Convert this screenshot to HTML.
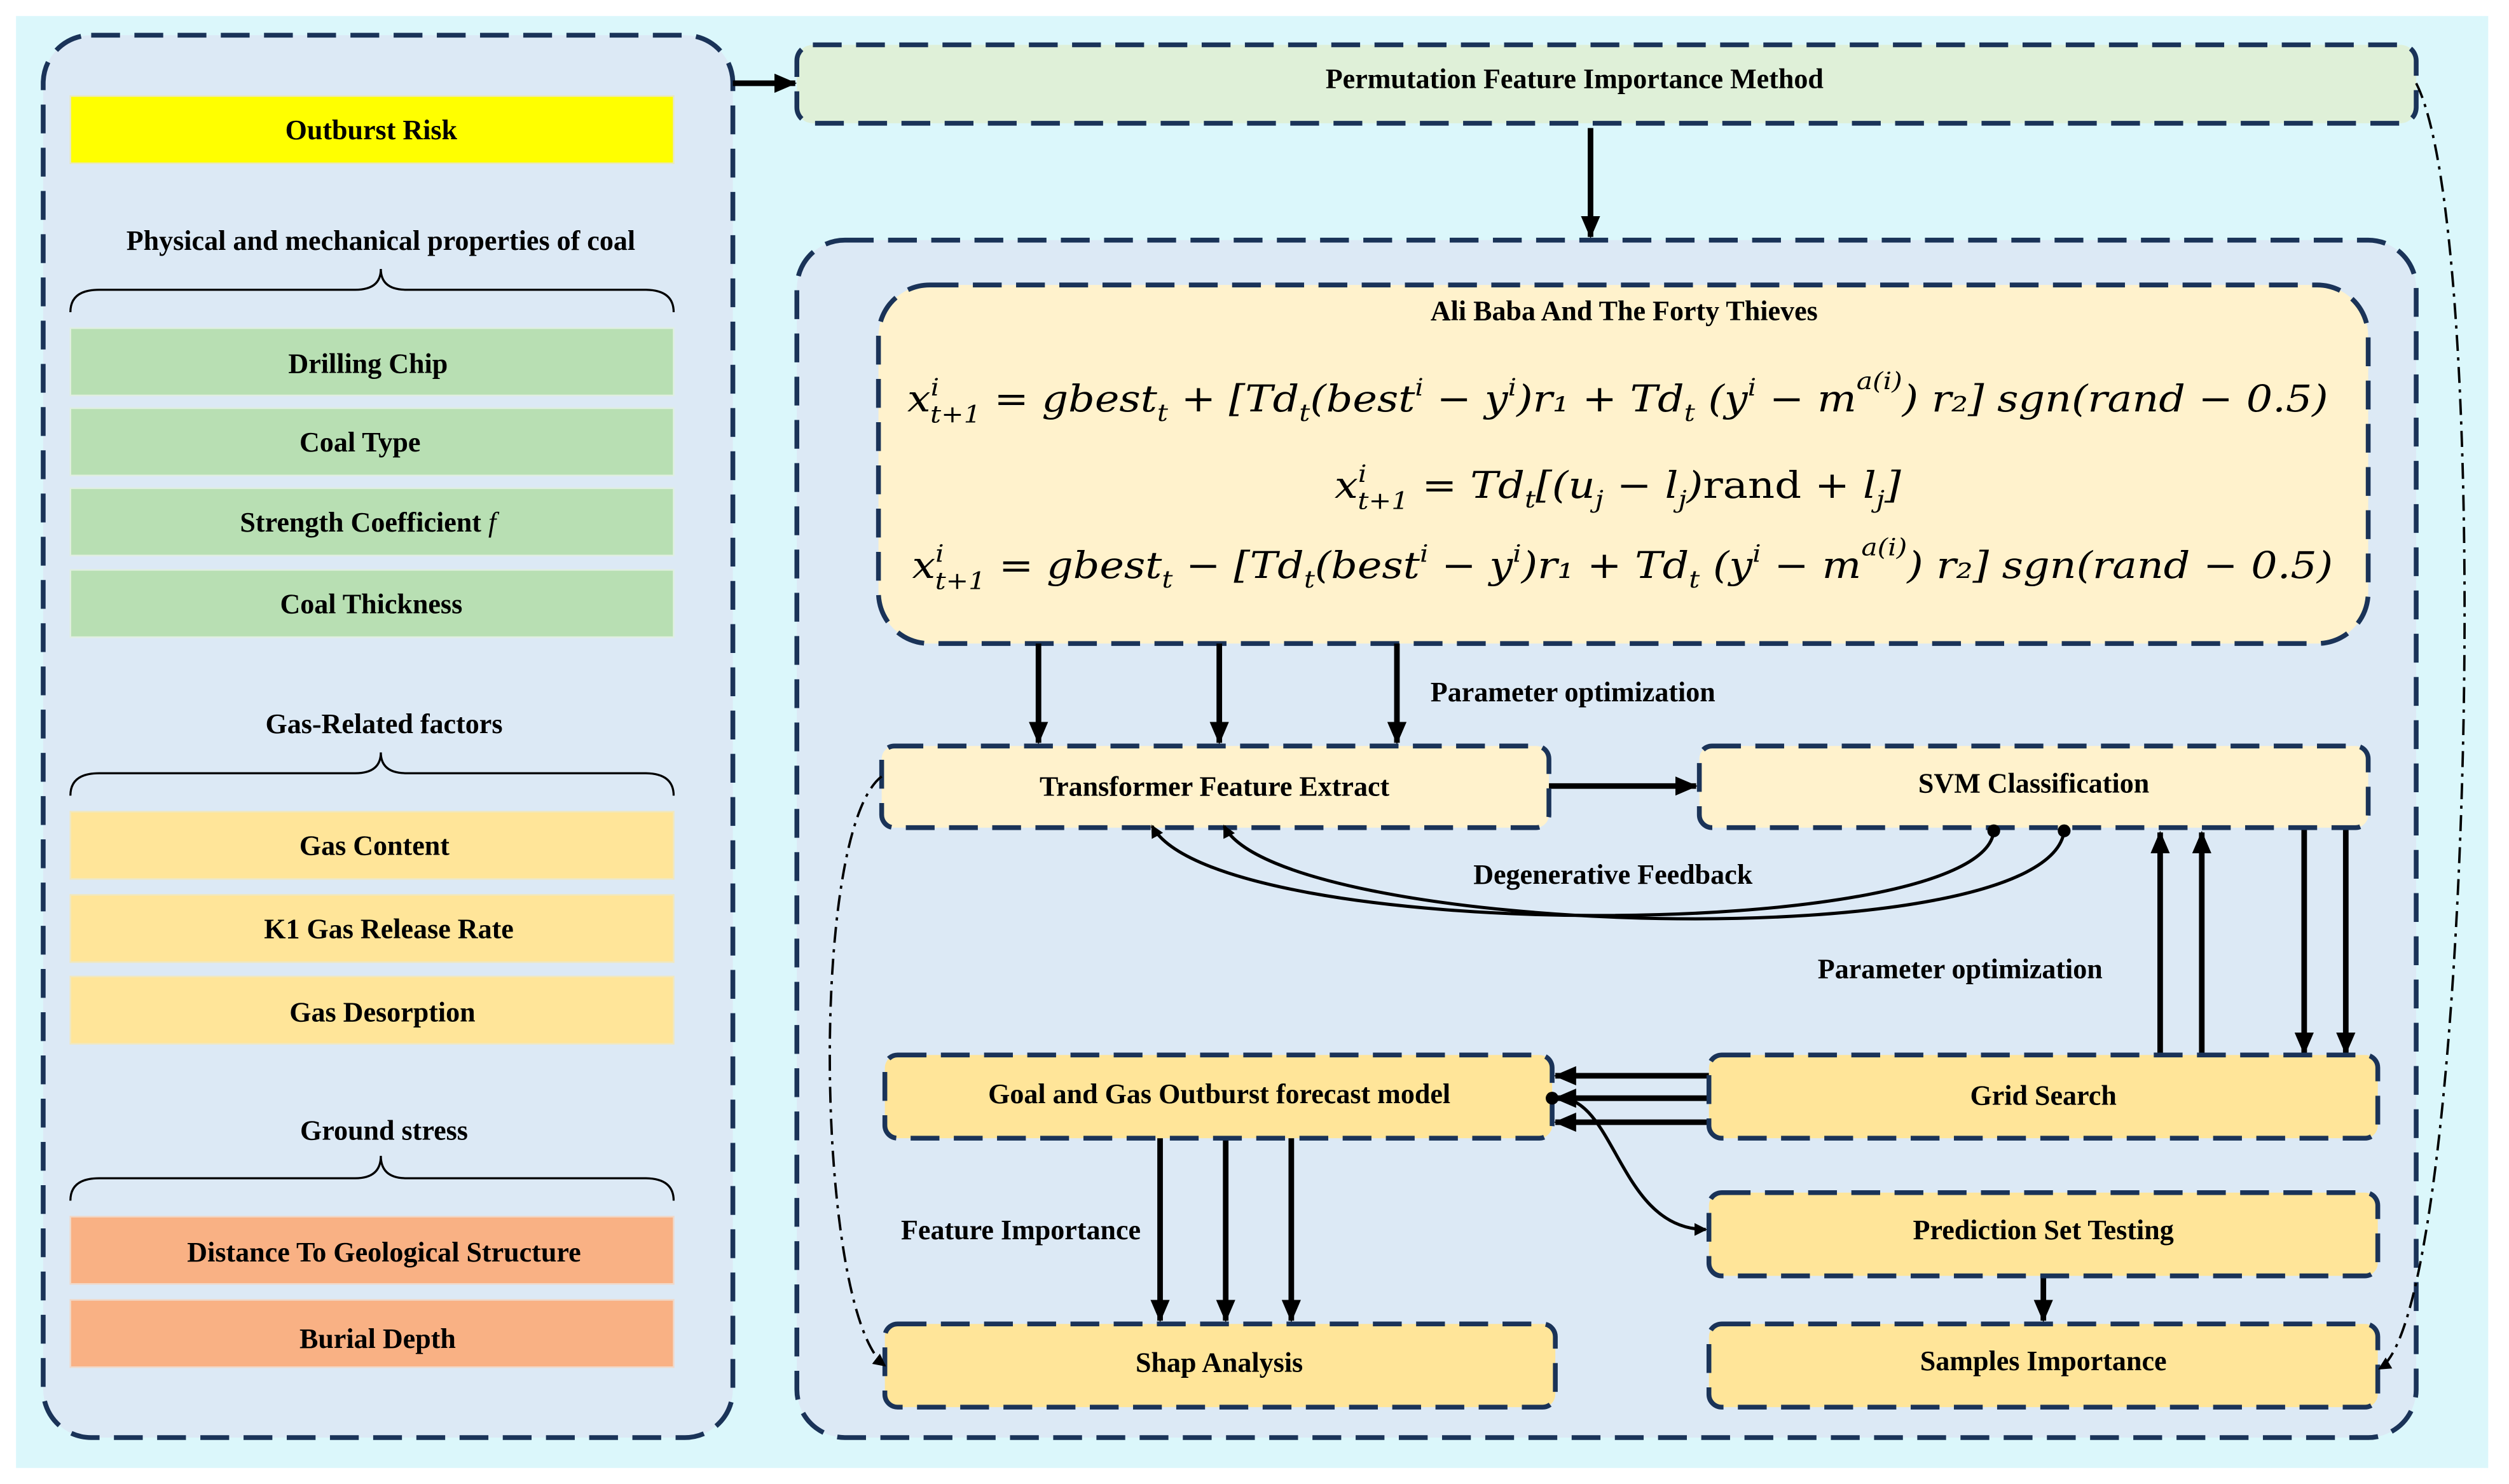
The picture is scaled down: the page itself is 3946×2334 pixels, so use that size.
<!DOCTYPE html>
<html><head><meta charset="utf-8"><style>
html,body{margin:0;padding:0;background:#fff;}
svg{display:block;}
text{font-family:"Liberation Serif",serif;font-weight:bold;font-size:17.5px;fill:#000;}
.m{font-family:"DejaVu Serif","Liberation Serif",serif;font-weight:normal;font-style:italic;font-size:23px;}
</style></head><body>
<svg width="3946" height="2334" viewBox="0 0 1568 927" preserveAspectRatio="none" xmlns="http://www.w3.org/2000/svg">
<defs>
<marker id="ah" markerWidth="8" markerHeight="8" refX="7" refY="4" orient="auto" markerUnits="userSpaceOnUse"><path d="M0,0 L8,4 L0,8 z" fill="#000"/></marker>
<marker id="ahl" markerWidth="14" markerHeight="12" refX="13" refY="6" orient="auto" markerUnits="userSpaceOnUse"><path d="M0,0 L14,6 L0,12 z" fill="#000"/></marker>
</defs>
<rect x="10" y="10" width="1545" height="907" fill="#dbf7fb"/>
<rect x="27" y="22" width="431" height="876" rx="30" fill="#dce9f5" stroke="#1a3358" stroke-width="3" stroke-dasharray="18,9"/>
<rect x="44" y="60" width="377" height="42" fill="#ffff00" stroke="#e8e8c0"/>
<text x="232" y="87" text-anchor="middle">Outburst Risk</text>
<text x="238" y="156" text-anchor="middle">Physical and mechanical properties of coal</text>
<path d="M44,195 Q44,181 62,181 L222,181 Q238,181 238,168 Q238,181 254,181 L403,181 Q421,181 421,195" fill="none" stroke="#000" stroke-width="1.3"/>
<g fill="#b8dfb3" stroke="#e0efe0">
<rect x="44" y="205" width="377" height="42"/><rect x="44" y="255" width="377" height="42"/>
<rect x="44" y="305" width="377" height="42"/><rect x="44" y="356" width="377" height="42"/></g>
<text x="230" y="233" text-anchor="middle">Drilling Chip</text>
<text x="225" y="282" text-anchor="middle">Coal Type</text>
<text x="230" y="332" text-anchor="middle">Strength Coefficient <tspan font-style="italic" font-weight="normal">f</tspan></text>
<text x="232" y="383" text-anchor="middle">Coal Thickness</text>
<text x="240" y="458" text-anchor="middle">Gas-Related factors</text>
<path d="M44,497 Q44,483 62,483 L222,483 Q238,483 238,470 Q238,483 254,483 L403,483 Q421,483 421,497" fill="none" stroke="#000" stroke-width="1.3"/>
<g fill="#ffe599" stroke="#f0e8c0">
<rect x="44" y="507" width="377" height="42"/><rect x="44" y="559" width="377" height="42"/><rect x="44" y="610" width="377" height="42"/></g>
<text x="234" y="534" text-anchor="middle">Gas Content</text>
<text x="243" y="586" text-anchor="middle">K1 Gas Release Rate</text>
<text x="239" y="638" text-anchor="middle">Gas Desorption</text>
<text x="240" y="712" text-anchor="middle">Ground stress</text>
<path d="M44,750 Q44,736 62,736 L222,736 Q238,736 238,722 Q238,736 254,736 L403,736 Q421,736 421,750" fill="none" stroke="#000" stroke-width="1.3"/>
<g fill="#f9b184" stroke="#f0d8c8"><rect x="44" y="760" width="377" height="42"/><rect x="44" y="812" width="377" height="42"/></g>
<text x="240" y="788" text-anchor="middle">Distance To Geological Structure</text>
<text x="236" y="842" text-anchor="middle">Burial Depth</text>
<line x1="458" y1="52" x2="497" y2="52" stroke="#000" stroke-width="3.5" marker-end="url(#ahl)"/>
<rect x="498" y="28" width="1012" height="49" rx="10" fill="#dff0d8" stroke="#1a3358" stroke-width="3" stroke-dasharray="18,9"/>
<text x="984" y="55" text-anchor="middle">Permutation Feature Importance Method</text>
<line x1="994" y1="80" x2="994" y2="148" stroke="#000" stroke-width="3.5" marker-end="url(#ahl)"/>
<rect x="498" y="150" width="1012" height="748" rx="30" fill="#dce9f5" stroke="#1a3358" stroke-width="3" stroke-dasharray="18,9"/>
<rect x="549" y="178" width="931" height="224" rx="32" fill="#fff2cc" stroke="#1a3358" stroke-width="3" stroke-dasharray="18,9"/>
<text x="1015" y="200" text-anchor="middle">Ali Baba And The Forty Thieves</text>
<text class="m" x="567" y="257" textLength="888" lengthAdjust="spacingAndGlyphs">x<tspan dy="-10" font-size="15">i</tspan><tspan dx="-5" dy="17" font-size="15">t+1</tspan><tspan dy="-7"> = gbest</tspan><tspan dy="6" font-size="15">t</tspan><tspan dy="-6"> + [Td</tspan><tspan dy="6" font-size="15">t</tspan><tspan dy="-6">(best</tspan><tspan dy="-10" font-size="15">i</tspan><tspan dy="10"> − y</tspan><tspan dy="-10" font-size="15">i</tspan><tspan dy="10">)r₁ + Td</tspan><tspan dy="6" font-size="15">t</tspan><tspan dy="-6"> (y</tspan><tspan dy="-10" font-size="15">i</tspan><tspan dy="10"> − m</tspan><tspan dy="-14" font-size="15">a(i)</tspan><tspan dy="14">) r₂] sgn(rand − 0.5)</tspan></text>
<text class="m" x="834" y="311" textLength="354" lengthAdjust="spacingAndGlyphs">x<tspan dy="-10" font-size="15">i</tspan><tspan dx="-5" dy="17" font-size="15">t+1</tspan><tspan dy="-7"> = Td</tspan><tspan dy="6" font-size="15">t</tspan><tspan dy="-6">[(u</tspan><tspan dy="6" font-size="15">j</tspan><tspan dy="-6"> − l</tspan><tspan dy="6" font-size="15">j</tspan><tspan dy="-6">)</tspan><tspan font-style="normal">rand</tspan><tspan> + l</tspan><tspan dy="6" font-size="15">j</tspan><tspan dy="-6">]</tspan></text>
<text class="m" x="570" y="361" textLength="888" lengthAdjust="spacingAndGlyphs">x<tspan dy="-10" font-size="15">i</tspan><tspan dx="-5" dy="17" font-size="15">t+1</tspan><tspan dy="-7"> = gbest</tspan><tspan dy="6" font-size="15">t</tspan><tspan dy="-6"> − [Td</tspan><tspan dy="6" font-size="15">t</tspan><tspan dy="-6">(best</tspan><tspan dy="-10" font-size="15">i</tspan><tspan dy="10"> − y</tspan><tspan dy="-10" font-size="15">i</tspan><tspan dy="10">)r₁ + Td</tspan><tspan dy="6" font-size="15">t</tspan><tspan dy="-6"> (y</tspan><tspan dy="-10" font-size="15">i</tspan><tspan dy="10"> − m</tspan><tspan dy="-14" font-size="15">a(i)</tspan><tspan dy="14">) r₂] sgn(rand − 0.5)</tspan></text>
<g stroke="#000" stroke-width="3.5" marker-end="url(#ahl)">
<line x1="649" y1="402" x2="649" y2="464"/><line x1="762" y1="402" x2="762" y2="464"/><line x1="873" y1="402" x2="873" y2="464"/>
<line x1="968" y1="491" x2="1060" y2="491"/>
<line x1="1350" y1="660" x2="1350" y2="520"/><line x1="1376" y1="660" x2="1376" y2="520"/>
<line x1="1440" y1="518" x2="1440" y2="658"/><line x1="1466" y1="518" x2="1466" y2="658"/>
<line x1="1068" y1="672" x2="972" y2="672"/><line x1="1068" y1="686" x2="972" y2="686"/><line x1="1068" y1="701" x2="972" y2="701"/>
<line x1="725" y1="711" x2="725" y2="825"/><line x1="766" y1="711" x2="766" y2="825"/><line x1="807" y1="711" x2="807" y2="825"/>
<line x1="1277" y1="797" x2="1277" y2="825"/>
</g>
<text x="983" y="438" text-anchor="middle">Parameter optimization</text>
<text x="1225" y="611" text-anchor="middle">Parameter optimization</text>
<text x="1008" y="552" text-anchor="middle">Degenerative Feedback</text>
<text x="638" y="774" text-anchor="middle">Feature Importance</text>
<g fill="#fff2cc" stroke="#1a3358" stroke-width="3" stroke-dasharray="18,9">
<rect x="551" y="466" width="417" height="51" rx="8"/>
<rect x="1062" y="466" width="418" height="51" rx="8"/></g>
<g fill="#ffe599" stroke="#1a3358" stroke-width="3" stroke-dasharray="18,9">
<rect x="553" y="659" width="417" height="52" rx="8"/>
<rect x="1068" y="659" width="418" height="52" rx="8"/>
<rect x="1068" y="745" width="418" height="52" rx="8"/>
<rect x="1068" y="827" width="418" height="52" rx="8"/>
<rect x="553" y="827" width="419" height="52" rx="8"/></g>
<text x="759" y="497" text-anchor="middle">Transformer Feature Extract</text>
<text x="1271" y="495" text-anchor="middle">SVM Classification</text>
<text x="762" y="689" text-anchor="middle">Goal and Gas Outburst forecast model</text>
<text x="1277" y="690" text-anchor="middle">Grid Search</text>
<text x="1277" y="774" text-anchor="middle">Prediction Set Testing</text>
<text x="1277" y="856" text-anchor="middle">Samples Importance</text>
<text x="762" y="857" text-anchor="middle">Shap Analysis</text>
<g fill="none" stroke="#000" stroke-width="2" marker-end="url(#ah)">
<path d="M1246,519 C1240,590 760,590 720,516"/>
<path d="M1290,519 C1280,600 800,585 765,516"/>
<path d="M970,686 C1010,680 1010,768 1066,768"/>
</g>
<circle cx="1246" cy="519" r="4"/><circle cx="1290" cy="519" r="4"/><circle cx="970" cy="686" r="4"/>
<g fill="none" stroke="#000" stroke-width="1.5" stroke-dasharray="10,4,2,4" marker-end="url(#ah)">
<path d="M551,485 C505,520 510,820 553,853"/>
<path d="M1510,52 C1560,150 1545,820 1487,855"/>
</g>
</svg>
</body></html>
